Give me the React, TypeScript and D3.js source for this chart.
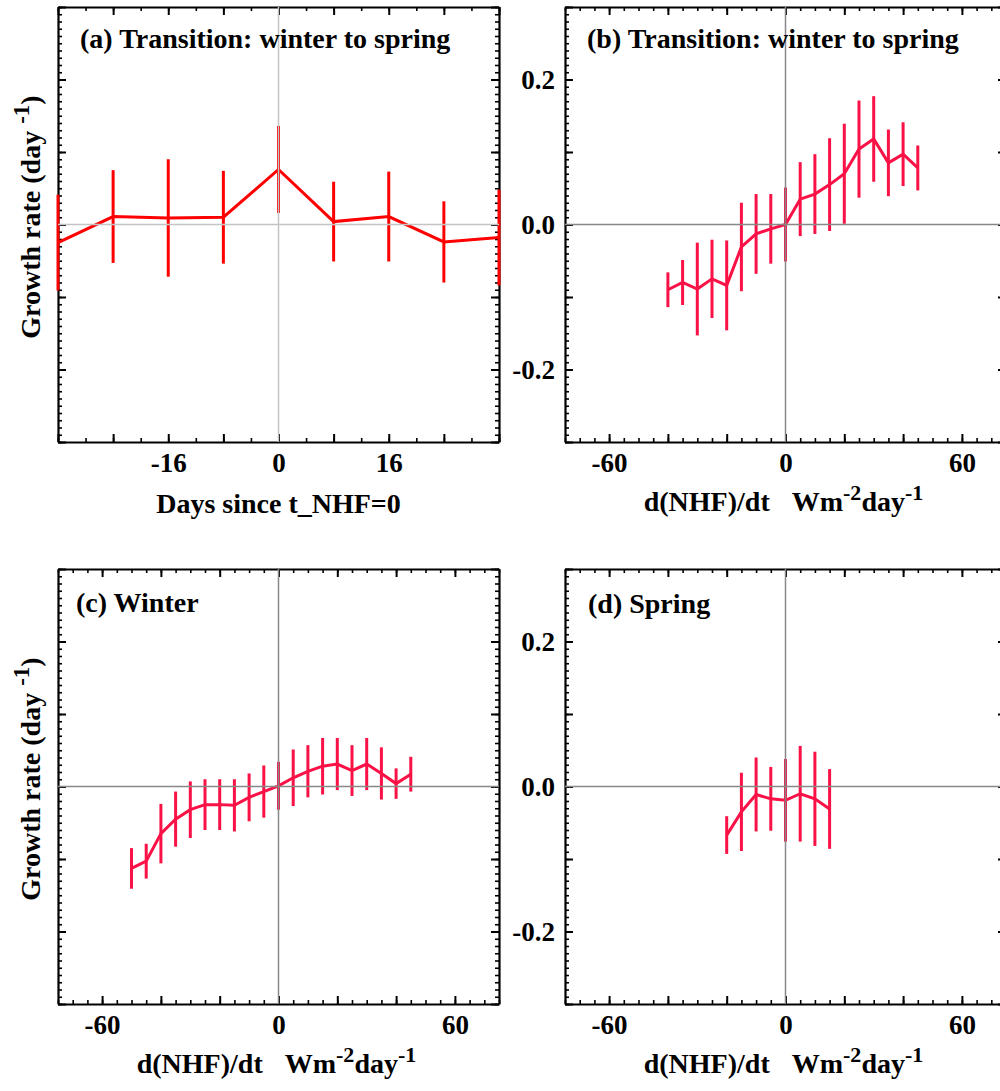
import React, { useRef, useEffect } from 'react';
import * as d3 from 'd3';

// (a) growth rate vs days since t_NHF=0
const daysA = [-32, -24, -16, -8, 0, 8, 16, 24, 32];
const rateA = [-0.025, 0.011, 0.009, 0.010, 0.076, 0.004, 0.011, -0.024, -0.018];
const errA = [0.066, 0.064, 0.081, 0.064, 0.060, 0.055, 0.062, 0.056, 0.066];

// (b) transition, vs d(NHF)/dt
const dnhfB = [-40, -35, -30, -25, -20, -15, -10, -5, 0, 5, 10, 15, 20, 25, 30, 35, 40, 45];
const rateB = [-0.090, -0.080, -0.089, -0.075, -0.084, -0.031, -0.013, -0.006, 0.0, 0.035, 0.042, 0.055, 0.070, 0.104, 0.118, 0.085, 0.097, 0.078];
const errB = [0.024, 0.031, 0.064, 0.054, 0.062, 0.061, 0.055, 0.048, 0.051, 0.051, 0.055, 0.064, 0.069, 0.067, 0.059, 0.046, 0.044, 0.031];

// (c) winter
const dnhfC = [-50, -45, -40, -35, -30, -25, -20, -15, -10, -5, 0, 5, 10, 15, 20, 25, 30, 35, 40, 45];
const rateC = [-0.113, -0.103, -0.065, -0.045, -0.032, -0.025, -0.025, -0.026, -0.015, -0.007, 0.001, 0.012, 0.021, 0.028, 0.031, 0.022, 0.031, 0.018, 0.004, 0.017];
const errC = [0.028, 0.024, 0.041, 0.038, 0.039, 0.035, 0.035, 0.036, 0.033, 0.036, 0.033, 0.039, 0.036, 0.039, 0.036, 0.035, 0.036, 0.036, 0.021, 0.024];

// (d) spring
const dnhfD = [-20, -15, -10, -5, 0, 5, 10, 15];
const rateD = [-0.067, -0.035, -0.011, -0.017, -0.019, -0.010, -0.017, -0.031];
const errD = [0.026, 0.054, 0.051, 0.044, 0.057, 0.066, 0.065, 0.055];

const yMajor = [-3, -2, -1, 0, 1, 2, 3].map(i => i / 10);
const yMinor = d3.range(-30, 31).map(i => i / 100);
const daysMajor = d3.range(-32, 33, 8);
const daysMinor = d3.range(-32, 33, 4);
const fluxMajor = d3.range(-60, 61, 20);
const fluxMinor = d3.range(-75, 76, 5);

const FONT = '"Liberation Serif", "Times New Roman", serif';
const PW = 441;
const PH = 435;

const panels = [
  {
    title: '(a) Transition: winter to spring', left: 58, top: 7, tx: 22, ty: 41,
    x: daysA, y: rateA, err: errA, color: '#ff0000', zero: '#c4c4c4',
    xDomain: [-32, 32], xMajor: daysMajor, xMinor: daysMinor, xLabels: [-16, 0, 16],
    yLabels: [], xTitle: 'days', yTitle: true,
  },
  {
    title: '(b) Transition: winter to spring', left: 565, top: 7, tx: 22, ty: 41,
    x: dnhfB, y: rateB, err: errB, color: '#fa1146', zero: '#888888',
    xDomain: [-75, 75], xMajor: fluxMajor, xMinor: fluxMinor, xLabels: [-60, 0, 60],
    yLabels: [-0.2, 0, 0.2], xTitle: 'flux', yTitle: false,
  },
  {
    title: '(c) Winter', left: 58, top: 569, tx: 18, ty: 43,
    x: dnhfC, y: rateC, err: errC, color: '#fa1146', zero: '#888888',
    xDomain: [-75, 75], xMajor: fluxMajor, xMinor: fluxMinor, xLabels: [-60, 0, 60],
    yLabels: [], xTitle: 'flux', yTitle: true,
  },
  {
    title: '(d) Spring', left: 565, top: 569, tx: 23, ty: 44,
    x: dnhfD, y: rateD, err: errD, color: '#fa1146', zero: '#888888',
    xDomain: [-75, 75], xMajor: fluxMajor, xMinor: fluxMinor, xLabels: [-60, 0, 60],
    yLabels: [-0.2, 0, 0.2], xTitle: 'flux', yTitle: false,
  },
];

const makeAxis = (side: string, scale: any) =>
  side === 'bottom' ? d3.axisBottom(scale) :
  side === 'top' ? d3.axisTop(scale) :
  side === 'left' ? d3.axisLeft(scale) : d3.axisRight(scale);

const has = (list: number[], d: number) => list.some(v => Math.abs(v - d) < 1e-9);

function drawPanel(svg: any, p: any) {
  const x = d3.scaleLinear().domain(p.xDomain).range([p.left, p.left + PW]);
  const y = d3.scaleLinear().domain([-0.3, 0.3]).range([p.top + PH, p.top]);
  const g = svg.append('g');

  const sides = [
    { side: 'bottom', scale: x, t: `translate(0,${p.top + PH})`, minor: p.xMinor, major: p.xMajor, labels: p.xLabels, fmt: (d: number) => String(d), pad: 11 },
    { side: 'top', scale: x, t: `translate(0,${p.top})`, minor: p.xMinor, major: p.xMajor, labels: [], fmt: String, pad: 11 },
    { side: 'left', scale: y, t: `translate(${p.left},0)`, minor: yMinor, major: yMajor, labels: p.yLabels, fmt: (d: number) => d.toFixed(1), pad: 10 },
    { side: 'right', scale: y, t: `translate(${p.left + PW},0)`, minor: yMinor, major: yMajor, labels: [], fmt: String, pad: 10 },
  ];

  sides.forEach(s => {
    const minorG = g.append('g').attr('transform', s.t)
      .call(makeAxis(s.side, s.scale).tickValues(s.minor).tickSize(-4).tickSizeOuter(0).tickFormat(() => ''));
    minorG.select('.domain').remove();
    minorG.selectAll('line').attr('stroke-width', 1.6);

    const majorG = g.append('g').attr('transform', s.t)
      .call(makeAxis(s.side, s.scale).tickValues(s.major).tickSize(-8).tickSizeOuter(0).tickPadding(s.pad)
        .tickFormat((d: any) => (has(s.labels, d) ? s.fmt(d) : '')));
    majorG.attr('font-family', FONT).attr('font-size', 27).attr('font-weight', 'bold');
    majorG.selectAll('line').attr('stroke-width', 2);
    majorG.select('.domain').attr('stroke-width', 2.2);
  });

  const pts = p.x.map((v: number, i: number) => ({ x: v, y: p.y[i], e: p.err[i] }));

  g.append('g').selectAll('line').data(pts).join('line')
    .attr('x1', (d: any) => x(d.x)).attr('x2', (d: any) => x(d.x))
    .attr('y1', (d: any) => y(d.y - d.e)).attr('y2', (d: any) => y(d.y + d.e))
    .attr('stroke', p.color).attr('stroke-width', 3);

  const line = d3.line<any>().x(d => x(d.x)).y(d => y(d.y));
  g.append('path').datum(pts).attr('d', line)
    .attr('fill', 'none').attr('stroke', p.color).attr('stroke-width', 3).attr('stroke-linejoin', 'miter');

  g.append('line').attr('x1', p.left).attr('x2', p.left + PW).attr('y1', y(0)).attr('y2', y(0))
    .attr('stroke', p.zero).attr('stroke-width', 1.5);
  g.append('line').attr('x1', x(0)).attr('x2', x(0)).attr('y1', p.top).attr('y2', p.top + PH)
    .attr('stroke', p.zero).attr('stroke-width', 1.5);

  g.append('text').attr('x', p.left + p.tx).attr('y', p.top + p.ty)
    .attr('font-family', FONT).attr('font-weight', 'bold').attr('font-size', 28)
    .text(p.title);

  const xt = g.append('text').attr('font-family', FONT).attr('font-weight', 'bold').attr('font-size', 28)
    .attr('text-anchor', 'middle');
  if (p.xTitle === 'days') {
    xt.attr('x', p.left + PW / 2).attr('y', p.top + 506).text('Days since t_NHF=0');
  } else {
    xt.attr('x', p.left + PW / 2 - 2).attr('y', p.top + 504);
    xt.append('tspan').text('d(NHF)/dt');
    xt.append('tspan').attr('dx', 22).text('Wm');
    xt.append('tspan').attr('dy', -11).attr('font-size', 22).text('-2');
    xt.append('tspan').attr('dy', 11).text('day');
    xt.append('tspan').attr('dy', -11).attr('font-size', 22).text('-1');
  }

  if (p.yTitle) {
    const yt = g.append('text').attr('transform', `translate(40,${p.top + 210}) rotate(-90)`)
      .attr('font-family', FONT).attr('font-weight', 'bold').attr('font-size', 28).attr('text-anchor', 'middle');
    yt.append('tspan').text('Growth rate (day ');
    yt.append('tspan').attr('dy', -11).attr('font-size', 23).text('-1');
    yt.append('tspan').attr('dy', 11).text(')');
  }
}

function App() {
  const ref = useRef<SVGSVGElement>(null);

  useEffect(() => {
    const svg = d3.select(ref.current);
    svg.selectAll('*').remove();
    panels.forEach(p => drawPanel(svg, p));
  }, []);

  return (
    <svg ref={ref} width={1000} height={1091}
      style={{ position: 'absolute', left: 0, top: 0, background: '#fff' }} />
  );
}

export default App;
